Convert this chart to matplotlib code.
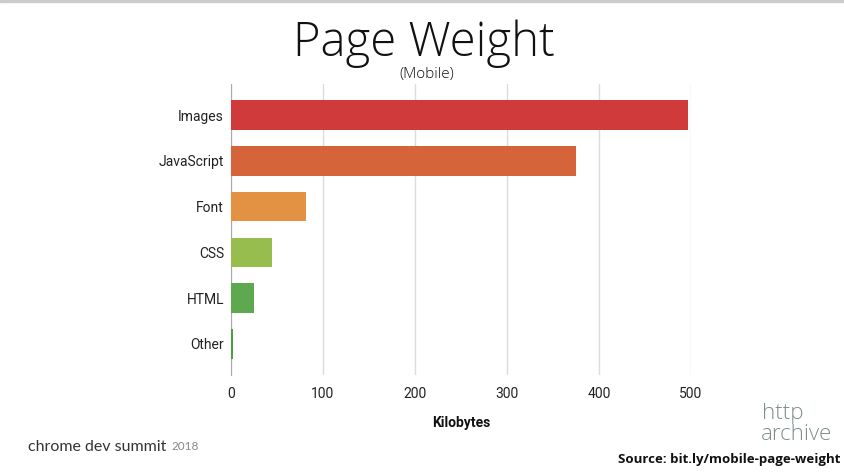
import matplotlib.pyplot as plt

categories = ['Images', 'JavaScript', 'Font', 'CSS', 'HTML', 'Other']
kilobytes = [497, 375, 81, 45, 25, 2]
colors = ['#d13a3a', '#d6643a', '#e39142', '#97bd4f', '#5ea94f', '#4f9a45']
xticks = [0, 100, 200, 300, 400, 500]

fig = plt.figure(figsize=(8.45, 4.72), dpi=100)
W, H = 845, 472

# axes placed in pixel terms: x 231..691, y 84..375
ax = fig.add_axes([231 / W, 1 - 375 / H, 460 / W, 291 / H])
ax.barh(range(len(categories)), kilobytes, height=0.65, color=colors, zorder=3)
ax.set_ylim(len(categories) - 1 + 0.68, -0.68)
ax.set_xlim(0, 500)
ax.set_yticks(range(len(categories)))
ax.set_yticklabels(categories, family='Roboto', fontsize=10, color='#222222')
ax.set_xticks(xticks)
ax.set_xticklabels([str(t) for t in xticks], family='Roboto', fontsize=10, color='#222222')
ax.tick_params(length=0, pad=9)
ax.tick_params(axis='y', pad=5)
ax.grid(axis='x', color='#dcdcdc', lw=1, zorder=0)
for s in ['top', 'right', 'bottom']:
    ax.spines[s].set_visible(False)
ax.spines['left'].set_color('#aaaaaa')
ax.spines['left'].set_zorder(2)

fig.text(424 / W, 1 - 56 / H, 'Page Weight', ha='center', va='baseline',
         family='Open Sans', fontweight='light', fontsize=34, color='#111111')
fig.text(427 / W, 1 - 75 / H, '(Mobile)', ha='center', va='center',
         family='Open Sans', fontweight='light', fontsize=11, color='#111111')
fig.text(461 / W, 1 - 423 / H, 'Kilobytes', ha='center', va='center',
         family='Roboto', fontweight='bold', fontsize=10, color='#111111')

fig.text(28 / W, 1 - 447 / H, 'chrome dev summit', ha='left', va='center',
         family='Lato', fontsize=11.5, color='#333333')
fig.text(172 / W, 1 - 447 / H, '2018', ha='left', va='center',
         family='Lato', fontsize=8.5, color='#888888')

fig.text(762 / W, 1 - 419 / H, 'http', ha='left', va='baseline',
         family='Open Sans', fontweight='light', fontsize=16, color='#7d8f88')
fig.text(761 / W, 1 - 440 / H, 'archive', ha='left', va='baseline',
         family='Open Sans', fontweight='light', fontsize=16, color='#7d8f88')
fig.text(840 / W, 1 - 460 / H, 'Source: bit.ly/mobile-page-weight', ha='right', va='center',
         family='Open Sans', fontweight='bold', fontsize=9.5, color='#111111')

# thin grey band at the top of the slide
fig.patches.append(plt.Rectangle((0, 1 - 2 / H), 1, 2 / H, transform=fig.transFigure,
                                 color='#cccccc', zorder=0))

fig.savefig('out.png', dpi=100)
